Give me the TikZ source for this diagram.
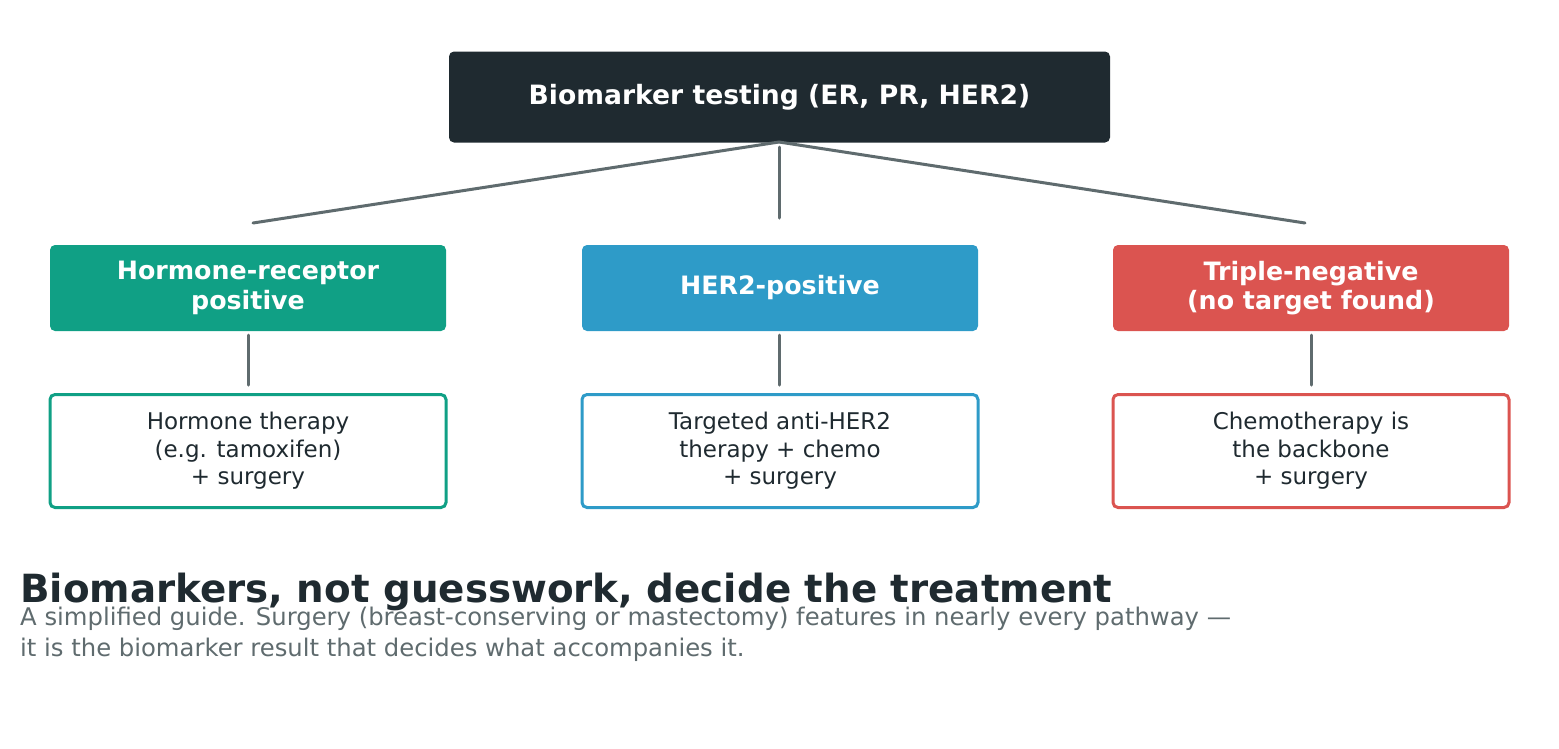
\documentclass[tikz,border=0pt]{standalone}
\usepackage{fontspec}
\setmainfont{DejaVu Sans}
\definecolor{dark}{HTML}{1F2A30}
\definecolor{gr}{HTML}{10A085}
\definecolor{bl}{HTML}{2E9BC8}
\definecolor{rd}{HTML}{DB5450}
\definecolor{ln}{HTML}{5F6B6E}
\begin{document}
\begin{tikzpicture}[x=1pt,y=-1pt,
  filled/.style={rounded corners=5pt,text=white,font=\bfseries\fontsize{25.3}{29.5}\selectfont,align=center,minimum width=396pt,minimum height=86pt,inner sep=0pt},
  outl/.style={rounded corners=5pt,draw,line width=3pt,fill=white,text=dark,font=\fontsize{23}{27.5}\selectfont,align=center,minimum width=396pt,minimum height=113pt,inner sep=0pt},
  conn/.style={ln,line width=3pt,line cap=round},
  sub/.style={anchor=base west,inner sep=0pt,text=ln,font=\fontsize{24.3}{31}\selectfont}]
\useasboundingbox (0,0) rectangle (1559,748);
\node[filled,fill=dark,minimum width=661pt,minimum height=91pt,font=\bfseries\fontsize{26.6}{29}\selectfont] (top) at (779.5,97) {Biomarker testing (ER, PR, HER2)};
\node[filled,fill=gr] (a) at (248,288) {Hormone-receptor\\positive};
\node[filled,fill=bl] (b) at (780,288) {HER2-positive};
\node[filled,fill=rd] (c) at (1311,288) {Triple-negative\\(no target found)};
\node[outl,draw=gr] (a2) at (248,451) {Hormone therapy\\(e.g. tamoxifen)\\+ surgery};
\node[outl,draw=bl] (b2) at (780,451) {Targeted anti-HER2\\therapy + chemo\\+ surgery};
\node[outl,draw=rd] (c2) at (1311,451) {Chemotherapy is\\the backbone\\+ surgery};
\coordinate (o) at (779,142);
\coordinate (oc) at (779,147);
\coordinate (ae) at (253,223);
\coordinate (be) at (779,218);
\coordinate (ce) at (1305,223);
\draw[conn] (o) -- (ae);
\draw[conn] (o) -- (ce);
\draw[conn] (oc) -- (be);
\coordinate (a3) at (248,335); \coordinate (a4) at (248,385);
\coordinate (b3) at (779,335); \coordinate (b4) at (779,385);
\coordinate (c3) at (1311,335); \coordinate (c4) at (1311,385);
\draw[conn] (a3) -- (a4);
\draw[conn] (b3) -- (b4);
\draw[conn] (c3) -- (c4);
\node[anchor=base west,inner sep=0pt,text=dark,font=\bfseries\fontsize{38.8}{40}\selectfont] (t) at (20,602) {Biomarkers, not guesswork, decide the treatment};
\node[sub] (s1) at (20,625) {A simplified guide. Surgery (breast-conserving or mastectomy) features in nearly every pathway —};
\node[sub] (s2) at (20,656) {it is the biomarker result that decides what accompanies it.};
\end{tikzpicture}
\end{document}
